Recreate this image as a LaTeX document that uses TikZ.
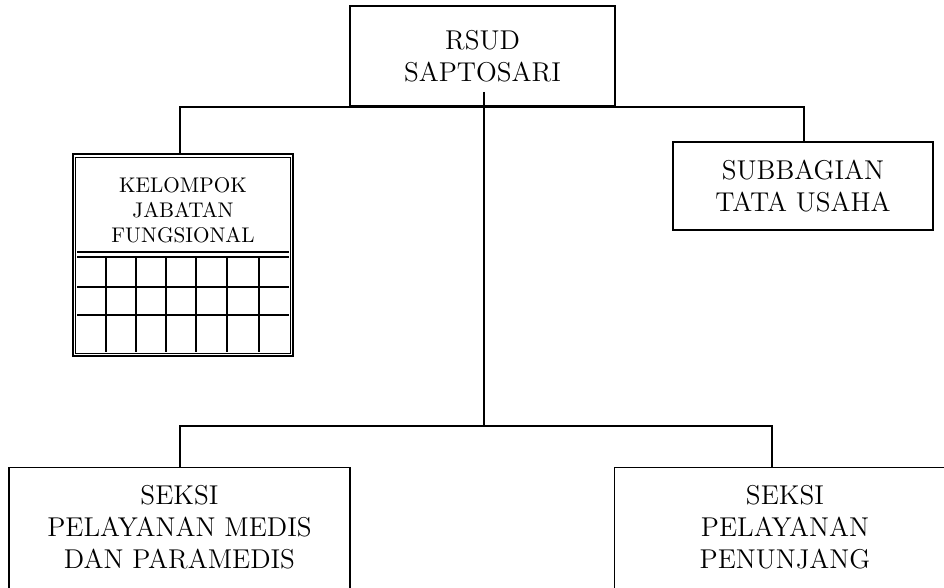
\documentclass[tikz,border=0pt]{standalone}
\tikzset{
	orgnode/.style = {
		align=center,
		inner sep=0pt,
		text centered,
		rectangle,
		draw=black,
		font=\fontsize{13.6}{16}\selectfont
	},
	node_head/.style = {
		orgnode,
		line width=0.9pt,
		minimum width=132.5pt,
		minimum height=50pt
	},
	node_unit/.style = {
		orgnode,
		line width=0.9pt,
		minimum width=130pt,
		minimum height=44pt
	},
	node_seksi/.style = {
		orgnode,
		anchor=north,
		line width=0.75pt,
		minimum width=170.5pt,
		minimum height=80pt,
		text depth=21pt
	},
	node_group/.style = {
		orgnode,
		line width=1.4pt,
		minimum width=110pt,
		minimum height=101pt
	},
	group_label/.style = {
		align=center,
		inner sep=0pt,
		font=\fontsize{10.6}{12.5}\selectfont
	},
	link/.style = {
		line width=0.65pt
	},
	grid_line/.style = {
		line width=0.8pt
	}
}

\begin{document}
\begin{tikzpicture}[x=0.5pt,y=-0.5pt]
\useasboundingbox (0,0) rectangle (944,588);
\clip (0,0) rectangle (944,588);

\node [node_head] (rsud) at (482.5,56) {RSUD\\SAPTOSARI};
\node [node_group] (kjf) at (183,255) {};
\node [group_label] (kjf_label) at (183,210) {KELOMPOK\\JABATAN\\FUNGSIONAL};
\node [node_unit] (tu) at (803,186) {SUBBAGIAN\\TATA USAHA};
\node [node_seksi] (medis) at (179.5,467) {SEKSI\\PELAYANAN MEDIS\\DAN PARAMEDIS};
\node [node_seksi] (penunjang) at (785,467) {SEKSI\\PELAYANAN\\PENUNJANG};

% inner frame and table of the functional group
\draw [grid_line] ([shift={(4,5)}]kjf.north west) rectangle ([shift={(-4,-4)}]kjf.south east);
\foreach \gy in {252,257,287,315}
	\draw [grid_line] (77,\gy) -- (289,\gy);
\foreach \gx in {106,136,166,196,227,259}
	\draw [grid_line] (\gx,257) -- (\gx,352);

% connectors
\coordinate (spine) at (484,92);
\coordinate (bus_top_l) at (180,107);
\coordinate (bus_top_r) at (804,107);
\coordinate (bus_low) at (484,426);
\coordinate (bus_low_l) at (180,426);
\coordinate (bus_low_r) at (772,426);

\draw [link] (kjf.north -| bus_top_l) -- (bus_top_l) -- (bus_top_r) -- (bus_top_r |- tu.north);
\draw [link] (spine) -- (bus_low);
\draw [link] (medis.north -| bus_low_l) -- (bus_low_l) -- (bus_low_r) -- (bus_low_r |- penunjang.north);
\end{tikzpicture}
\end{document}
